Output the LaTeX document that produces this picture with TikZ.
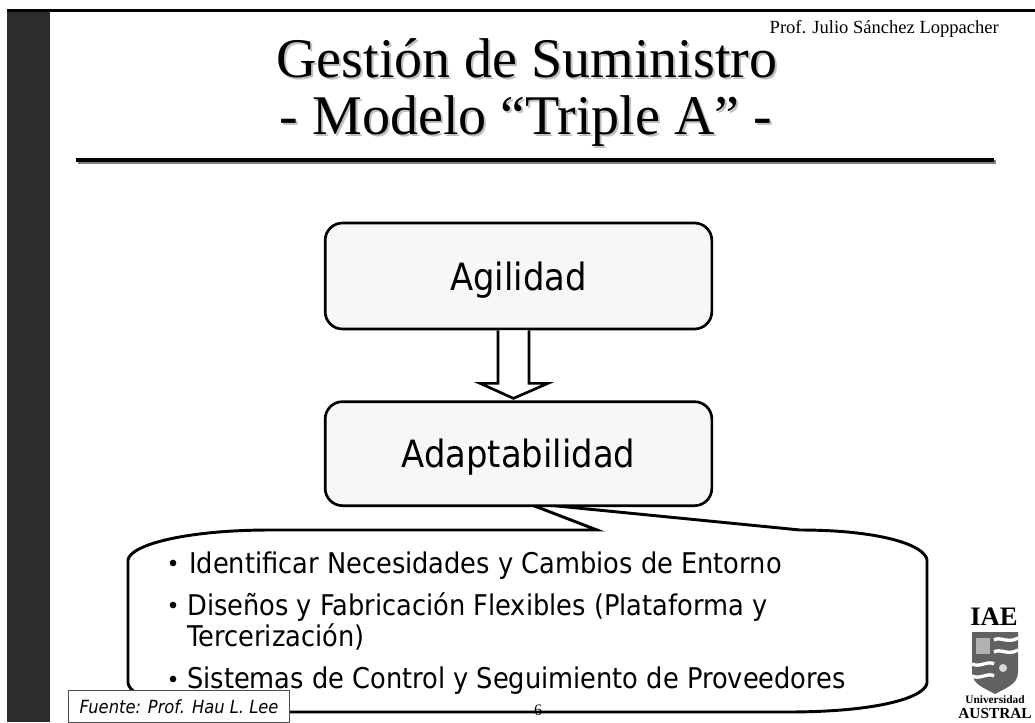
\documentclass[tikz,border=0pt]{standalone}
\usepackage{fontspec}
\setmainfont{Liberation Serif}
\setsansfont{DejaVu Sans}
\newfontfamily\tahomalike[FakeStretch=0.9]{DejaVu Sans}
\usepackage{xcolor}
\usetikzlibrary{arrows.meta,positioning,shapes.geometric,calc}
\definecolor{barcol}{HTML}{2D2D2D}

\begin{document}
\begin{tikzpicture}[
  x=0.75pt, y=-0.75pt,
  titletext/.style={font=\fontsize{42}{48}\selectfont, anchor=base, inner sep=0pt},
  blockbox/.style={draw=black, line width=2pt, rounded corners=13pt, fill=black!3,
                   minimum width=290pt, minimum height=79.5pt, inner sep=0pt, text depth=0pt,
                   font=\tahomalike\fontsize{28.2}{32}\selectfont},
  itemtext/.style={anchor=base west, inner sep=0pt, font=\tahomalike\fontsize{21.4}{26}\selectfont},
  bulletdot/.style={circle, fill=black, inner sep=0pt, minimum size=5pt},
  logotext/.style={inner sep=0pt}
]
  \useasboundingbox (0,0) rectangle (1035,722);
  % slide frame
  \fill[barcol] (7,10) rectangle (50,722);
  \fill[black] (7,9) rectangle (1035,12);
  \fill[gray] (78,160) rectangle (996,164);
  \fill[black] (76,158) rectangle (994,162);

  % title with its shadow
  \foreach \offs/\col in {2/black!25, 0/black} {
    \node[titletext, text=\col] at (527+\offs,77+\offs) {Gestión de Suministro};
    \node[titletext, text=\col] at (526+\offs,134+\offs) {- Modelo “Triple A” -};
  }
  \node[anchor=base east, inner sep=0pt, font=\fontsize{13.9}{16}\selectfont] (prof) at (999,33) {Prof. Julio Sánchez Loppacher};

  % callout
  \coordinate (calltip) at (532,505);
  \draw[line width=2.2pt, fill=white]
    (calltip) -- (597,530) -- (270,530) .. controls (185,530) and (130,545) .. (128,560)
    -- (128,683) .. controls (130,697) and (170,712) .. (270,712)
    -- (787,712) .. controls (880,712) and (925,697) .. (927,683)
    -- (927,560) .. controls (925,545) and (880,530) .. (800,530)
    -- (790,529) -- (547,505) -- cycle;

  % boxes
  \node[blockbox] (agil) at (518.5,276) {Agilidad};
  \node[blockbox, minimum height=78pt, below=52.5pt of agil] (adap) {Adaptabilidad};
  \coordinate (tipA) at ($(adap.north)+(-5,-2)$);
  \draw[line width=2pt, fill=white]
    ($(agil.south)+(-20.5,0)$) -- ++(0,53) -- ++(-18,0) -- (tipA) -- ($(agil.south)+(29.5,53)$) -- ++(-19,0) -- ($(agil.south)+(10.5,0)$);

  % list
  \node[bulletdot] (b1) at (173,563) {};
  \node[itemtext] (i1) at (189,573) {Identificar Necesidades y Cambios de Entorno};
  \node[bulletdot] (b2) at (173,605) {};
  \node[itemtext] (i2) at (187,615) {Diseños y Fabricación Flexibles (Plataforma y};
  \node[itemtext] (i2b) at (187,646) {Tercerización)};
  \node[bulletdot] (b3) at (173,679) {};
  \node[itemtext] (i3) at (187,688) {Sistemas de Control y Seguimiento de Proveedores};

  % footer
  \node[draw=black!70, fill=white, line width=0.6pt, anchor=north west, inner sep=0pt,
        minimum width=166pt, minimum height=24pt, font=\tahomalike\itshape\fontsize{13.6}{16}\selectfont] (src) at (68,690) {Fuente: Prof. Hau L. Lee};
  \node[font=\fontsize{12}{14}\selectfont, inner sep=0pt] (page) at (538,710) {6};

  % logo
  \node[logotext, font=\bfseries\fontsize{20}{20}\selectfont] (iae) at (994,617) {IAE};
  \fill[black!62] (972,632) -- (1018,632) -- (1018,672) .. controls (1018,685) and (1005,688) .. (995,694) .. controls (985,688) and (972,685) .. (972,672) -- cycle;
  \foreach \yy in {640,652} {
    \draw[white, line width=2.5pt] (994,\yy) .. controls (1000,\yy-4) and (1008,\yy+4) .. (1018,\yy-2);
  }
  \foreach \yy in {664,676} {
    \draw[white, line width=2.5pt] (972,\yy) .. controls (980,\yy+4) and (988,\yy-4) .. (994,\yy);
  }
  \fill[black!30] (976,638) rectangle (990,654);
  \fill[black!15] (1003,668) circle (4);
  \node[logotext, font=\bfseries\fontsize{8.5}{8.5}\selectfont] (univ) at (995,699.5) {Universidad};
  \node[logotext, font=\bfseries\fontsize{11.5}{12}\selectfont] (austral) at (995,713.5) {AUSTRAL};
\end{tikzpicture}
\end{document}
